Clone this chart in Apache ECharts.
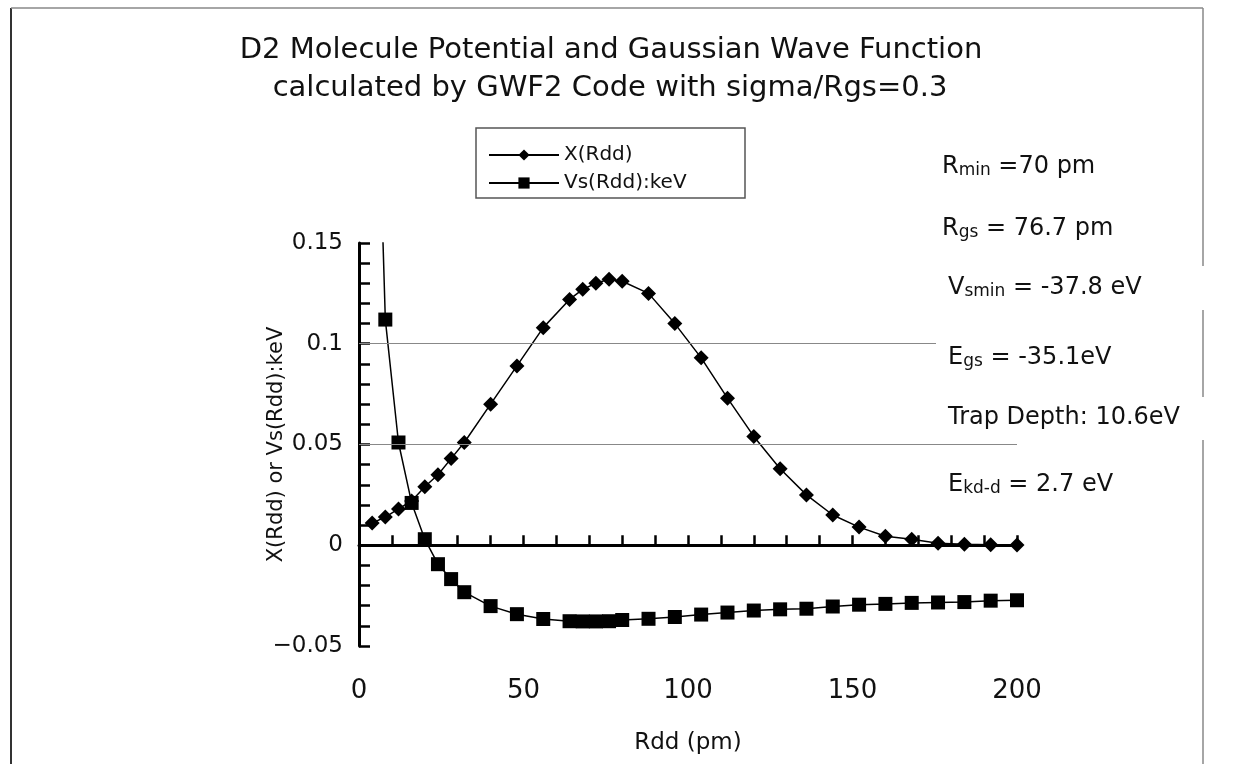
<!DOCTYPE html>
<html><head><meta charset="utf-8">
<script src="https://cdn.jsdelivr.net/npm/echarts@6/dist/echarts.min.js"></script>
<style>html,body{margin:0;padding:0;background:#fff}#c{width:1257px;height:764px}</style>
</head><body><div id="c"></div>
<script>
// ---- data ----
const rdd = [4,8,12,16,20,24,28,32,40,48,56,64,68,72,76,80,88,96,104,112,120,128,136,144,152,160,168,176,184,192,200];
const xWave = [0.011,0.014,0.018,0.022,0.029,0.035,0.043,0.051,0.070,0.089,0.108,0.122,0.127,0.130,0.132,0.131,0.125,0.110,0.093,0.073,0.054,0.038,0.025,0.015,0.009,0.0045,0.003,0.001,0.0005,0.0002,0.0001];
const vsKeV = [0.33,0.112,0.051,0.021,0.003,-0.0094,-0.0168,-0.0233,-0.0302,-0.0342,-0.0366,-0.0377,-0.0378,-0.0378,-0.0377,-0.0371,-0.0365,-0.0356,-0.0344,-0.0334,-0.0324,-0.0318,-0.0315,-0.0304,-0.0295,-0.0291,-0.0286,-0.0284,-0.0282,-0.0275,-0.0273];
const seriesNames = ['X(Rdd)', 'Vs(Rdd):keV'];
const titleLines = ['D2 Molecule Potential and Gaussian Wave Function', 'calculated by GWF2 Code with sigma/Rgs=0.3'];
const xAxisName = 'Rdd (pm)';
const yAxisName = 'X(Rdd) or Vs(Rdd):keV';
const grayGridValues = [0.05, 0.1];
const blackGridValues = [0];
// annotation texts: [main, subscript, rest]
const notes = [
  ['R', 'min', ' =70 pm'],
  ['R', 'gs', ' = 76.7 pm'],
  ['V', 'smin', ' = -37.8 eV'],
  ['E', 'gs', ' = -35.1eV'],
  ['Trap Depth: 10.6eV', '', ''],
  ['E', 'kd-d', ' = 2.7 eV']
];

const FONT = 'DejaVu Sans';
const pair = (xs, ys) => xs.map((x, i) => [x, ys[i]]);
const yFmt = v => { const r = Math.round(v * 100) / 100; return r < 0 ? '\u2212' + Math.abs(r) : String(r); };

const notePos = [[942,167],[942,229],[948,288],[948,358],[948,418],[948,485]];
const noteGraphics = notes.map((n, i) => ({
  type: 'text', x: notePos[i][0], y: notePos[i][1], z: 30,
  style: {
    text: n[1] ? '{a|' + n[0] + '}{s|' + n[1] + '}{a|' + n[2] + '}' : '{a|' + n[0] + '}',
    verticalAlign: 'middle', textAlign: 'left',
    rich: {
      a: { fontFamily: FONT, fontSize: 24, fill: '#111', lineHeight: 24, verticalAlign: 'bottom' },
      s: { fontFamily: FONT, fontSize: 17, fill: '#111', lineHeight: 18, verticalAlign: 'bottom' }
    }
  }
}));

const chart = echarts.init(document.getElementById('c'), null, { renderer: 'canvas' });
chart.setOption({
  backgroundColor: '#fff',
  animation: false,
  grid: { left: 359, right: 240, top: 243, bottom: 118, containLabel: false },
  legend: {
    left: 483, top: 140, orient: 'vertical', itemWidth: 70, itemHeight: 14, itemGap: 8,
    textStyle: { fontFamily: FONT, fontSize: 20, color: '#111' },
    data: seriesNames
  },
  xAxis: {
    type: 'value', min: 0, max: 200, interval: 50,
    name: xAxisName, nameLocation: 'middle', nameGap: 86, nameMoveOverlap: false,
    nameTextStyle: { fontFamily: FONT, fontSize: 23, color: '#111' },
    axisLine: { lineStyle: { color: '#000', width: 3 } },
    axisTick: { inside: true, length: 10, lineStyle: { color: '#000', width: 2.5 } },
    minorTick: { show: true, splitNumber: 5, length: 10, lineStyle: { color: '#000', width: 2.5 } },
    axisLabel: { margin: 32, fontFamily: FONT, fontSize: 26, color: '#111' },
    splitLine: { show: false }
  },
  yAxis: {
    type: 'value', min: -0.05, max: 0.15, interval: 0.05,
    name: yAxisName, nameLocation: 'middle', nameGap: 72, nameRotate: 90, nameMoveOverlap: false,
    nameTextStyle: { fontFamily: FONT, fontSize: 21, color: '#111' },
    axisLine: { lineStyle: { color: '#000', width: 3 } },
    axisTick: { inside: true, length: 11, lineStyle: { color: '#000', width: 2.5 } },
    minorTick: { show: true, splitNumber: 5, length: 11, lineStyle: { color: '#000', width: 2.5 } },
    axisLabel: { margin: 16, fontFamily: FONT, fontSize: 23, color: '#111', formatter: yFmt },
    splitLine: { show: false }
  },
  series: [
    {
      name: seriesNames[0], type: 'line', data: pair(rdd, xWave),
      symbol: 'diamond', symbolSize: 15, clip: true,
      lineStyle: { color: '#000', width: 1.5 }, itemStyle: { color: '#000' },
      markLine: {
        silent: true, symbol: 'none', label: { show: false },
        data: grayGridValues.map(v => ({ yAxis: v, lineStyle: { color: '#888', width: 1.2, type: 'solid' } }))
          .concat(blackGridValues.map(v => ({ yAxis: v, lineStyle: { color: '#000', width: 1.5, type: 'solid' } })))
      }
    },
    {
      name: seriesNames[1], type: 'line', data: pair(rdd, vsKeV),
      symbol: 'rect', symbolSize: 14, clip: true,
      lineStyle: { color: '#000', width: 1.5 }, itemStyle: { color: '#000' }
    }
  ],
  graphic: [
    { type: 'line', z: 10, shape: { x1: 11, y1: 8, x2: 11, y2: 764 }, style: { stroke: '#333', lineWidth: 2 } },
    { type: 'line', z: 10, shape: { x1: 11, y1: 8, x2: 1203, y2: 8 }, style: { stroke: '#888', lineWidth: 1.5 } },
    { type: 'line', z: 10, shape: { x1: 1203, y1: 8, x2: 1203, y2: 764 }, style: { stroke: '#888', lineWidth: 1.5 } },
    { type: 'rect', z: 10, shape: { x: 476, y: 128, width: 269, height: 70 }, style: { fill: 'none', stroke: '#555', lineWidth: 1.5 } },
    { type: 'rect', z: 20, shape: { x: 940, y: 266, width: 275, height: 44 }, style: { fill: '#fff' } },
    { type: 'rect', z: 20, shape: { x: 936, y: 330, width: 240, height: 50 }, style: { fill: '#fff' } },
    { type: 'rect', z: 20, shape: { x: 940, y: 397, width: 317, height: 43 }, style: { fill: '#fff' } },
    {
      type: 'text', x: 611, y: 50, z: 30,
      style: { text: titleLines[0], fontFamily: FONT, fontSize: 29, fill: '#111', textAlign: 'center', verticalAlign: 'middle' }
    },
    {
      type: 'text', x: 610, y: 88, z: 30,
      style: { text: titleLines[1], fontFamily: FONT, fontSize: 29, fill: '#111', textAlign: 'center', verticalAlign: 'middle' }
    }
  ].concat(noteGraphics)
});
</script></body></html>
